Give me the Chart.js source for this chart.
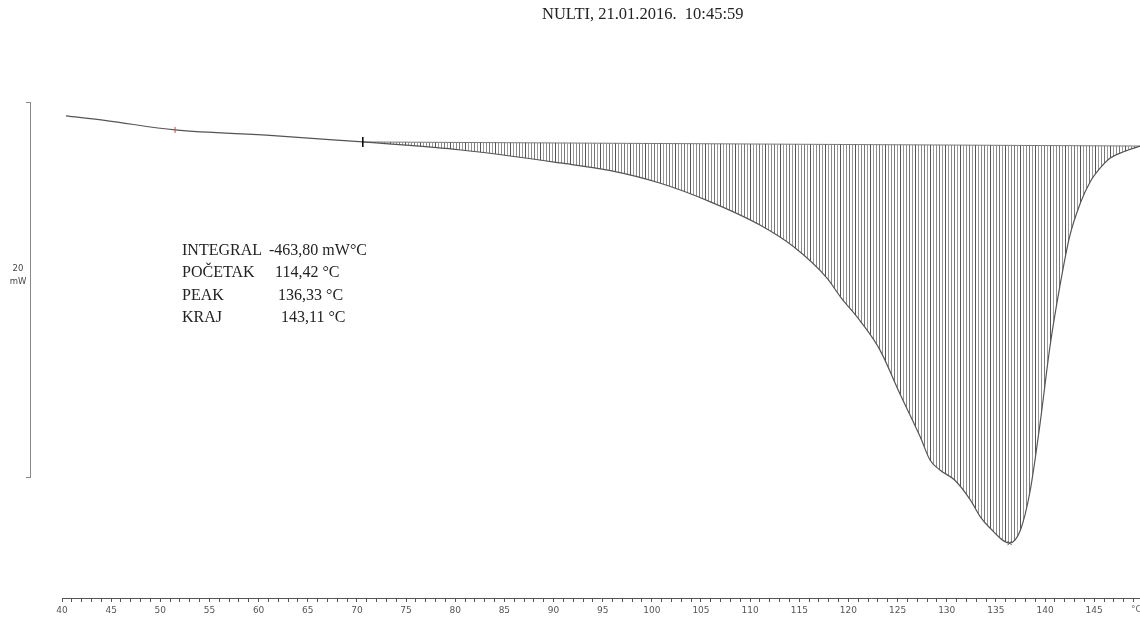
<!DOCTYPE html>
<html>
<head>
<meta charset="utf-8">
<script src="https://cdn.jsdelivr.net/npm/chart.js@4.4.1/dist/chart.umd.min.js"></script>
<style>
  html, body { margin: 0; padding: 0; background: #fff; }
  #wrap { position: relative; width: 1140px; height: 617px; overflow: hidden; }
  #c { position: absolute; left: 0; top: 0; }
  .serif { position: absolute; font-family: "Liberation Serif", "DejaVu Serif", serif; color: #222; white-space: pre; }
  #title { left: 542px; top: 4px; font-size: 16.5px; }
  .ann { font-size: 16px; line-height: 22.3px; }
  #bracket { position: absolute; left: 26px; top: 102px; width: 4px; height: 374px; border: 1px solid #888; border-left: none; }
  #scaleLbl { position: absolute; left: 4px; top: 262px; width: 28px; text-align: center; font-family: "DejaVu Sans", sans-serif; font-size: 8.5px; line-height: 13px; color: #444; }
  #unit { position: absolute; left: 1131px; top: 604px; font-family: "DejaVu Sans", sans-serif; font-size: 9px; color: #666; }
</style>
</head>
<body>
<div id="wrap">
  <canvas id="c" width="1140" height="617"></canvas>
  <div id="title" class="serif">NULTI, 21.01.2016.  10:45:59</div>
  <div class="serif ann" style="left:182px; top:239px;">INTEGRAL<br>POČETAK<br>PEAK<br>KRAJ</div>
  <div class="serif ann" style="left:269px; top:239px;">-463,80 mW°C</div>
  <div class="serif ann" style="left:275px; top:261.3px;">114,42 °C</div>
  <div class="serif ann" style="left:278px; top:283.6px;">136,33 °C</div>
  <div class="serif ann" style="left:281px; top:305.9px;">143,11 °C</div>
  <div id="bracket"></div>
  <div id="scaleLbl">20<br>mW</div>
  <div id="unit">°C</div>
</div>
<script>
// Temperature (°C) and heat flow (mW)
const temps = [40.4,44.5,51.5,61.5,70.6,80.6,90.7,95.8,100.8,105.9,111.0,114.4,117.8,119.2,121.2,123.2,125.2,127.3,128.3,129.3,130.8,132.4,133.4,134.4,136.4,137.5,138.5,139.5,140.5,141.5,142.5,143.6,144.6,145.6,146.6,148.0,149.7];
const heatFlow = [1.39,1.14,0.64,0.34,0.0,-0.43,-1.12,-1.53,-2.19,-3.18,-4.43,-5.58,-7.25,-8.27,-9.55,-11.09,-13.39,-15.72,-16.96,-17.49,-18.03,-19.09,-19.98,-20.59,-21.39,-20.69,-18.56,-14.99,-10.92,-7.72,-5.05,-3.25,-2.12,-1.40,-0.87,-0.52,-0.22];
// Integration baseline
const baseTemps = [70.6, 149.7];
const baseFlow = [0.0, -0.22];
// Markers
const markRedT = [51.5], markRedV = [0.64];
const markStartT = [70.6], markStartV = [0.0];
const markPeakT = [136.4], markPeakV = [-21.39];
// Axis
const xMin = 40, xMax = 149.66, xStep = 1, xLabelEvery = 5;
const yMin = -24.32, yMax = 7.57;

const startIdx = temps.indexOf(70.6);
const pts = (xs, ys) => xs.map((x, i) => ({x: x, y: ys[i]}));

// vertical hatch pattern
const pc = document.createElement('canvas');
pc.width = 15; pc.height = 4;
const pctx = pc.getContext('2d');
[[0,'#555555'],[3,'#999999'],[6,'#8c8c8c'],[9,'#777777'],[12,'#9a9a9a']].forEach(([x,c]) => {
  pctx.fillStyle = c; pctx.fillRect(x, 0, 1, 4);
});
const hatch = document.getElementById('c').getContext('2d').createPattern(pc, 'repeat');

new Chart(document.getElementById('c'), {
  type: 'line',
  data: {
    datasets: [
      { label: 'baseline', data: pts(baseTemps, baseFlow), borderColor: '#777', borderWidth: 1, pointRadius: 0, fill: false, order: 3 },
      { label: 'pre', data: pts(temps.slice(0, startIdx + 1), heatFlow.slice(0, startIdx + 1)), borderColor: '#555', borderWidth: 1.2, pointRadius: 0, fill: false, cubicInterpolationMode: 'monotone', order: 2 },
      { label: 'peak', data: pts(temps.slice(startIdx), heatFlow.slice(startIdx)), borderColor: '#555', borderWidth: 1.2, pointRadius: 0, fill: 0, backgroundColor: hatch, cubicInterpolationMode: 'monotone', order: 2 },
      { type: 'scatter', label: 'red', data: pts(markRedT, markRedV), pointStyle: 'line', rotation: 90, radius: 3, borderColor: '#c0504d', borderWidth: 1, order: 0 },
      { type: 'scatter', label: 'start', data: pts(markStartT, markStartV), pointStyle: 'line', rotation: 90, radius: 5, borderColor: '#000', borderWidth: 1.5, order: 0 },
      { type: 'scatter', label: 'peakmark', data: pts(markPeakT, markPeakV), pointStyle: 'crossRot', radius: 3, borderColor: '#555', borderWidth: 1, order: 0 }
    ]
  },
  options: {
    responsive: false,
    devicePixelRatio: 1,
    animation: false,
    events: [],
    layout: { autoPadding: false, padding: { left: 62, right: 0, top: 0, bottom: 0 } },
    plugins: { legend: { display: false }, tooltip: { enabled: false }, title: { display: false } },
    scales: {
      x: {
        type: 'linear', min: xMin, max: xMax,
        border: { display: true, color: '#555', width: 1 },
        grid: { drawOnChartArea: false, drawTicks: true, tickLength: 4, color: '#555' },
        ticks: {
          stepSize: xStep, autoSkip: false, maxRotation: 0, includeBounds: false, padding: 3,
          color: '#555', font: { family: 'DejaVu Sans', size: 9 },
          callback: v => (Math.round(v) % xLabelEvery === 0 ? String(Math.round(v)) : '')
        },
        afterFit: s => { s.height = 19; s.paddingLeft = 0; s.paddingRight = 0; }
      },
      y: { type: 'linear', min: yMin, max: yMax, display: false }
    }
  }
});
</script>
</body>
</html>
